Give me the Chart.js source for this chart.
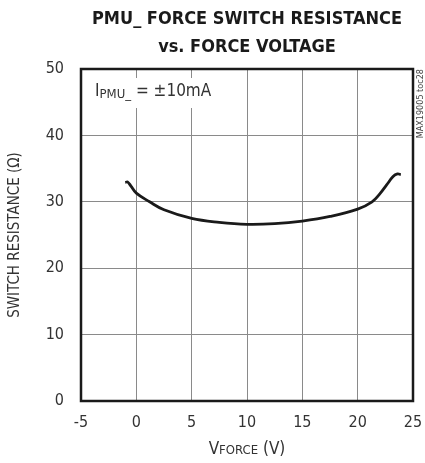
<!DOCTYPE html>
<html>
<head>
<meta charset="utf-8">
<script src="https://cdn.jsdelivr.net/npm/chart.js@4"></script>
<style>
html,body{margin:0;padding:0;background:#fff;}
#wrap{width:425px;height:463px;position:relative;}
</style>
</head>
<body>
<div id="wrap"><canvas id="c" width="425" height="463"></canvas></div>
<script>
const FONT = '"Liberation Sans Narrow","DejaVu Sans Condensed","Arial Narrow",sans-serif';
const titleLines = ["PMU_ FORCE SWITCH RESISTANCE", "vs. FORCE VOLTAGE"];
const xTicks = [-5, 0, 5, 10, 15, 20, 25];
const yTicks = [0, 10, 20, 30, 40, 50];
const forceVoltage = [-1.0, -0.8, -0.5, 0, 1.2, 2.5, 5, 7.5, 10, 12.5, 15, 17.5, 20, 21.3, 22, 22.6, 23.2, 23.6, 23.9];
const switchResistance = [32.9, 33.0, 32.4, 31.3, 30.0, 28.8, 27.5, 26.9, 26.6, 26.7, 27.1, 27.8, 28.9, 30.0, 31.2, 32.5, 33.8, 34.2, 34.1];

const points = forceVoltage.map((x, i) => ({x: x, y: switchResistance[i]}));

function drawSub(ctx, parts, x, y, align) {
  let total = 0;
  parts.forEach(p => { ctx.font = p.size + 'px ' + FONT; p.w = ctx.measureText(p.t).width; total += p.w; });
  let cx = align === 'center' ? x - total / 2 : x;
  parts.forEach(p => {
    ctx.font = p.size + 'px ' + FONT;
    ctx.fillText(p.t, cx, y + (p.dy || 0));
    cx += p.w;
  });
  return total;
}

const decor = {
  id: 'decor',
  beforeDatasetsDraw(chart) {
    const ctx = chart.ctx;
    const a = chart.chartArea;
    ctx.save();
    ctx.fillStyle = '#fff';
    ctx.fillRect(a.left + 10, a.top + 9, 114, 30);
    ctx.restore();
  },
  afterDraw(chart) {
    const ctx = chart.ctx;
    const a = chart.chartArea;
    ctx.save();
    ctx.strokeStyle = '#1a1a1a';
    ctx.lineWidth = 2.5;
    ctx.strokeRect(a.left, a.top, a.right - a.left, a.bottom - a.top);
    ctx.fillStyle = '#1a1a1a';
    ctx.textAlign = 'center';
    ctx.textBaseline = 'alphabetic';
    ctx.font = 'bold 18px ' + FONT;
    const cx = (a.left + a.right) / 2;
    ctx.fillText(titleLines[0], cx, 24);
    ctx.fillText(titleLines[1], cx, 52);
    ctx.textAlign = 'left';
    ctx.fillStyle = '#333';
    drawSub(ctx, [{t: 'I', size: 17}, {t: 'PMU_', size: 13, dy: 2}, {t: ' = \u00b110mA', size: 17}], a.left + 14, a.top + 27, 'left');
    drawSub(ctx, [{t: 'V', size: 17}, {t: 'FORCE', size: 13}, {t: ' (V)', size: 17}], cx, 454, 'center');
    ctx.save();
    ctx.translate(19, (a.top + a.bottom) / 2);
    ctx.rotate(-Math.PI / 2);
    ctx.textAlign = 'center';
    ctx.font = '15px ' + FONT;
    ctx.fillText('SWITCH RESISTANCE (\u03a9)', 0, 0);
    ctx.restore();
    ctx.save();
    ctx.translate(a.right + 10, a.top);
    ctx.rotate(-Math.PI / 2);
    ctx.textAlign = 'right';
    ctx.font = '9px ' + FONT;
    ctx.fillStyle = '#444';
    ctx.fillText('MAX19005 toc28', 0, 0);
    ctx.restore();
    ctx.restore();
  }
};

new Chart(document.getElementById('c'), {
  type: 'scatter',
  data: {
    datasets: [{
      data: points,
      showLine: true,
      borderColor: '#1a1a1a',
      borderWidth: 2.8,
      pointRadius: 0,
      tension: 0.4,
      fill: false
    }]
  },
  options: {
    responsive: false,
    animation: false,
    devicePixelRatio: 1,
    layout: {padding: {top: 69, right: 12, left: 0, bottom: 0}},
    plugins: {legend: {display: false}, tooltip: {enabled: false}, title: {display: false}},
    scales: {
      x: {
        type: 'linear', min: -5, max: 25,
        afterBuildTicks: s => { s.ticks = xTicks.map(v => ({value: v})); },
        afterFit: s => { s.height = 62; s.paddingRight = 0; s.paddingLeft = 0; },
        grid: {color: '#8a8a8a', lineWidth: 1, drawTicks: false},
        border: {display: false},
        ticks: {padding: 12, color: '#333', font: {family: FONT, size: 16}, maxRotation: 0}
      },
      y: {
        type: 'linear', min: 0, max: 50,
        afterBuildTicks: s => { s.ticks = yTicks.map(v => ({value: v})); },
        afterFit: s => { s.width = 81; s.paddingTop = 0; s.paddingBottom = 0; },
        grid: {color: '#8a8a8a', lineWidth: 1, drawTicks: false},
        border: {display: false},
        ticks: {padding: 17, color: '#333', font: {family: FONT, size: 16}}
      }
    }
  },
  plugins: [decor]
});
</script>
</body>
</html>
